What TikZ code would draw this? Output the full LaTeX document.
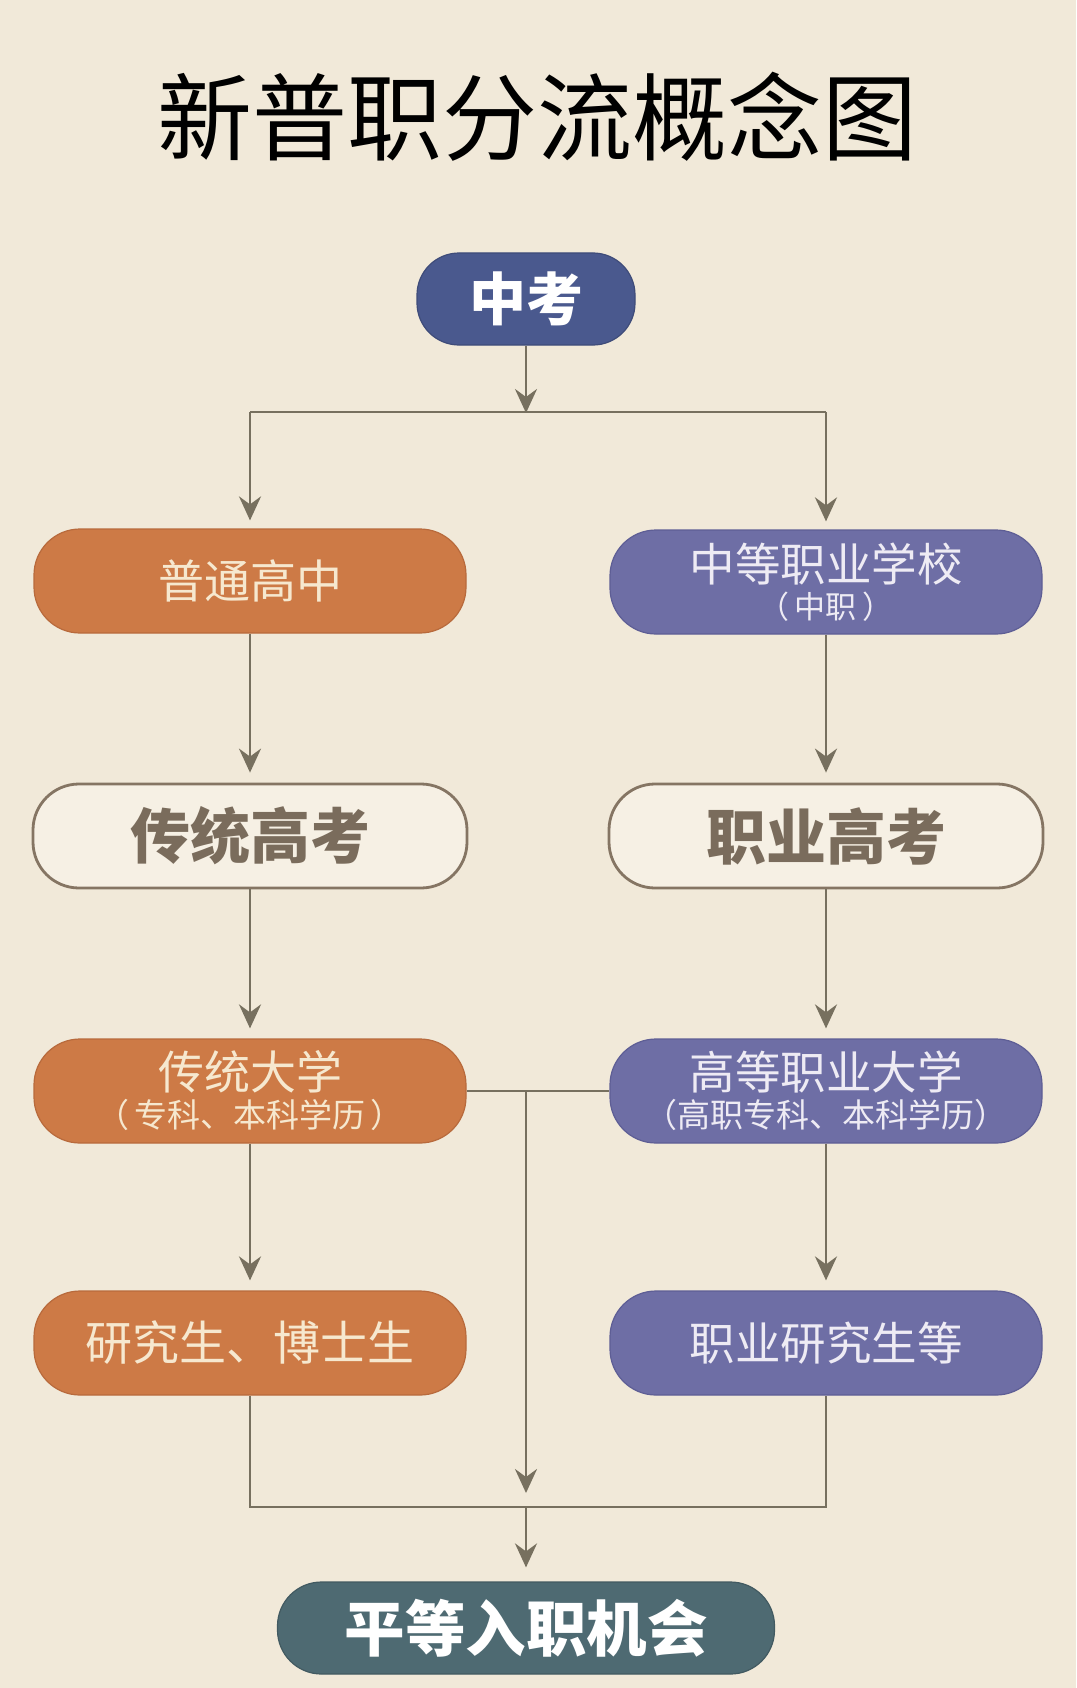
\documentclass[tikz,border=0pt]{standalone}
\usepackage{fontspec}
\newfontfamily\cjk{Noto Sans CJK SC}
\usetikzlibrary{arrows.meta}
\definecolor{bg}{HTML}{F1E9D9}
\definecolor{orangebox}{HTML}{CD7A46}
\definecolor{orangeedge}{HTML}{B86A3C}
\definecolor{purplebox}{HTML}{6E6EA5}
\definecolor{purpleedge}{HTML}{5E5E95}
\definecolor{navybox}{HTML}{4A598E}
\definecolor{tealbox}{HTML}{4E6A72}
\definecolor{lightfill}{HTML}{F6F0E4}
\definecolor{outline}{HTML}{857563}
\definecolor{outlinetext}{HTML}{7A6C5C}
\definecolor{linecol}{HTML}{77705F}
\definecolor{creamtext}{HTML}{F6E8CF}
\definecolor{lilactext}{HTML}{EEEBF4}
\tikzset{
  pill/.style={rectangle, rounded corners=46pt, minimum width=432pt, minimum height=104pt, inner sep=0pt, align=center, font=\cjk},
  orangepill/.style={pill, fill=orangebox, draw=orangeedge, line width=1.2pt, text=creamtext},
  purplepill/.style={pill, fill=purplebox, draw=purpleedge, line width=1.2pt, text=lilactext},
  outlinepill/.style={pill, minimum width=434pt, minimum height=104pt, fill=lightfill, draw=outline, line width=2.8pt, text=outlinetext},
  conn/.style={draw=linecol, line width=2.7pt},
  arr/.style={conn, -{Stealth[length=24pt, width=22pt, inset=8pt]}},
}
\begin{document}
\begin{tikzpicture}[x=1pt, y=-1pt]
\fill[bg] (0,0) rectangle (1076,1688);
\useasboundingbox (0,0) rectangle (1076,1688);

\node[font=\cjk\fontsize{95}{104}\selectfont, text=black] (title) at (537,117) {新普职分流概念图};

\node[pill, minimum width=218pt, minimum height=92pt, rounded corners=42pt, fill=navybox, draw=navybox!85!black, line width=1.2pt, text=white, font=\cjk\bfseries\fontsize{57}{64}\selectfont] (zk) at (526,299) {中考};

\node[orangepill, font=\cjk\fontsize{46}{52}\selectfont] (pt) at (250,581) {普通高中};
\node[purplepill] (zz) at (826,582) {\fontsize{45.5}{52}\selectfont 中等职业学校\\[6pt]\fontsize{31}{38}\selectfont （\,中职\,）};

\node[outlinepill, font=\cjk\bfseries\fontsize{60}{66}\selectfont] (cg) at (250,836) {传统高考};
\node[outlinepill, font=\cjk\bfseries\fontsize{60}{66}\selectfont] (zg) at (826,836) {职业高考};

\node[orangepill] (dx) at (250,1091) {\fontsize{46}{52}\selectfont 传统大学\\[5pt]\fontsize{33}{40}\selectfont （\,专科、本科学历\,）};
\node[purplepill] (gz) at (826,1091) {\fontsize{45.5}{52}\selectfont 高等职业大学\\[5pt]\fontsize{33}{40}\selectfont （高职专科、本科学历）};

\node[orangepill, font=\cjk\fontsize{47}{52}\selectfont] (yj) at (250,1343) {研究生、博士生};
\node[purplepill, font=\cjk\fontsize{45.5}{52}\selectfont] (zy) at (826,1343) {职业研究生等};

\node[pill, minimum width=497pt, minimum height=92pt, rounded corners=44pt, fill=tealbox, draw=tealbox!85!black, line width=1.2pt, text=white, font=\cjk\bfseries\fontsize{60.5}{66}\selectfont] (pd) at (526,1628) {平等入职机会};

% top split
\coordinate (split) at (526,412);
\draw[arr, shorten >=-1pt] (zk) -- (split);
\draw[conn] (pt.north |- split) -- (zz.north |- split);
\draw[arr, shorten >=8pt] (pt.north |- split) -- (pt.north);
\draw[arr, shorten >=8pt] (zz.north |- split) -- (zz.north);

% columns
\draw[arr, shorten >=10pt] (pt) -- (cg);
\draw[arr, shorten >=10pt] (zz) -- (zg);
\draw[arr, shorten >=10pt] (cg) -- (dx);
\draw[arr, shorten >=10pt] (zg) -- (gz);
\draw[arr, shorten >=10pt] (dx) -- (yj);
\draw[arr, shorten >=10pt] (gz) -- (zy);

% middle line
\coordinate (mid) at (526,1090);
\coordinate (bot) at (526,1507);
\draw[conn] (dx.east) -- (gz.west);
\draw[arr, shorten >=14pt] (mid) -- (bot);

% bottom merge
\draw[conn] (yj.south) |- (bot) -| (zy.south);
\draw[arr, shorten >=14pt] (bot) -- (pd.north);
\end{tikzpicture}
\end{document}
